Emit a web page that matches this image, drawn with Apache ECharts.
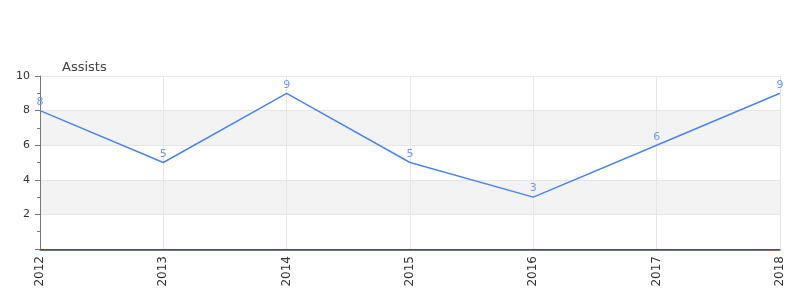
<!DOCTYPE html>
<html><head><meta charset="utf-8">
<script src="https://cdn.jsdelivr.net/npm/echarts@6/dist/echarts.min.js"></script>
<style>html,body{margin:0;padding:0;background:#fff}#c{width:800px;height:300px}</style>
</head><body><div id="c"></div>
<script>
const years = ['2012','2013','2014','2015','2016','2017','2018'];
const assists = [8,5,9,5,3,6,9];
const yTicks = [0,2,4,6,8,10];
const titleText = 'Assists';

const chart = echarts.init(document.getElementById('c'), null, {renderer:'canvas'});
chart.setOption({
  animation:false,
  backgroundColor:'#fff',
  title:{text:titleText,left:57,top:56,textStyle:{fontSize:13,fontWeight:'normal',color:'#444',fontFamily:'DejaVu Sans'}},
  grid:{left:40,right:20,top:76,bottom:51,containLabel:false},
  xAxis:[{type:'category',data:years,boundaryGap:false,
    axisLine:{lineStyle:{color:'#dd1111'}},
    axisTick:{show:false},
    splitLine:{show:true,lineStyle:{color:'#e6e6e6'}},
    axisLabel:{rotate:90,color:'#333',fontSize:12,fontFamily:'DejaVu Sans',margin:7}},
   {type:'category',data:years,boundaryGap:false,position:'bottom',offset:1,
    axisLine:{lineStyle:{color:'#777'}},axisTick:{show:false},axisLabel:{show:false},splitLine:{show:false}}],
  yAxis:{type:'value',min:yTicks[0],max:yTicks[yTicks.length-1],interval:2,
    axisLine:{show:true,lineStyle:{color:'#777'}},
    axisTick:{show:true,length:5,lineStyle:{color:'#777'}},
    minorTick:{show:true,splitNumber:2,length:3,lineStyle:{color:'#777'}},
    splitLine:{show:true,lineStyle:{color:'#e6e6e6'}},
    splitArea:{show:true,areaStyle:{color:['#ffffff','#f3f3f3']}},
    axisLabel:{color:'#333',fontSize:11,fontFamily:'DejaVu Sans',margin:10,formatter:v=>v===0?'':String(v)}},
  series:[{type:'line',data:assists,symbol:'circle',symbolSize:0,showSymbol:true,
    itemStyle:{color:'#4a86e8'},
    lineStyle:{color:'#4a86e8',width:1.5},
    label:{show:true,position:'top',distance:3,color:'#6f9cea',fontSize:11,fontFamily:'DejaVu Sans'}
  }]
});
</script></body></html>
